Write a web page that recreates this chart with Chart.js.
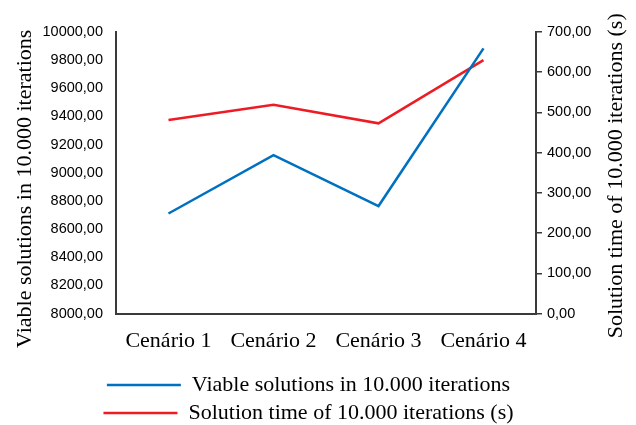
<!DOCTYPE html>
<html>
<head>
<meta charset="utf-8">
<script src="https://cdn.jsdelivr.net/npm/chart.js@4"></script>
<style>
  html, body { margin: 0; padding: 0; background: #fff; }
  #wrap { width: 636px; height: 425px; }
</style>
</head>
<body>
<div id="wrap"><canvas id="myChart"></canvas></div>
<script>
// valores
let categories = ['Cenário 1', 'Cenário 2', 'Cenário 3', 'Cenário 4'];
let viableSolutions = [8711, 9125, 8764, 9884];
let solutionTime = [481, 519, 473, 630];
let leftTitle = 'Viable solutions in 10.000 iterations';
let rightTitle = 'Solution time of 10.000 iterations (s)';

let serif = '"Liberation Serif", "Times New Roman", serif';
let sans = '"Liberation Sans", Arial, sans-serif';
let axisColor = '#3a3a3a';

let fmt = (v) => v.toFixed(2).replace('.', ',');

// títulos dos eixos desenhados à mão: ambos leem de baixo para cima
let drawVerticalTitle = (ctx, text, x, y) => {
    ctx.save();
    ctx.translate(x, y);
    ctx.rotate(-Math.PI / 2);
    ctx.font = '22px ' + serif;
    ctx.fillStyle = '#000';
    ctx.textAlign = 'center';
    ctx.textBaseline = 'middle';
    ctx.fillText(text, 0, 0);
    ctx.restore();
}

let axisTitlesPlugin = {
    id: 'axisTitles',
    afterLayout: (chart) => {
        // legenda um pouco à esquerda do centro
        chart.legend.left -= 12;
        chart.legend.right -= 12;
    },
    afterDraw: (chart) => {
        let l = chart.scales.y;
        let r = chart.scales.y1;
        let mid = (l.top + l.bottom) / 2;
        drawVerticalTitle(chart.ctx, leftTitle, l.left + 2 + 13.2, mid + 16);
        drawVerticalTitle(chart.ctx, rightTitle, r.right - 2 - 13.2, mid + 3);
    }
};

let init = () => {
    let ctx = document.getElementById('myChart').getContext('2d');
    new Chart(ctx, {
        type: 'line',
        data: {
            labels: categories,
            datasets: [{
                label: leftTitle,
                data: viableSolutions,
                borderColor: '#0070C0',
                backgroundColor: '#0070C0',
                borderWidth: 2.5,
                pointRadius: 0,
                tension: 0,
                yAxisID: 'y'
            }, {
                label: rightTitle,
                data: solutionTime,
                borderColor: '#ED1C24',
                backgroundColor: '#ED1C24',
                borderWidth: 2.5,
                pointRadius: 0,
                tension: 0,
                yAxisID: 'y1'
            }]
        },
        options: {
            responsive: true,
            maintainAspectRatio: false,
            animation: false,
            layout: { padding: { left: 10, right: 5, top: 32, bottom: -9 } },
            plugins: {
                tooltip: { enabled: false },
                legend: {
                    position: 'bottom',
                    labels: {
                        usePointStyle: true,
                        pointStyle: 'line',
                        pointStyleWidth: 74,
                        color: '#000',
                        padding: 6,
                        font: { family: serif, size: 22, lineHeight: 1.2 }
                    }
                }
            },
            scales: {
                x: {
                    offset: true,
                    grid: { display: false, drawTicks: false },
                    border: { display: true, color: axisColor, width: 2 },
                    ticks: { color: '#000', padding: 14, font: { family: serif, size: 22 } }
                },
                y: {
                    position: 'left',
                    min: 8000,
                    max: 10000,
                    afterFit: (s) => { s.width = 106; },
                    grid: { display: false, drawTicks: false },
                    border: { display: true, color: axisColor, width: 2 },
                    ticks: {
                        stepSize: 200,
                        padding: 13,
                        color: '#000',
                        font: { family: sans, size: 14.5 },
                        callback: (v) => fmt(v)
                    }
                },
                y1: {
                    position: 'right',
                    min: 0,
                    max: 700,
                    afterFit: (s) => { s.width = 95; },
                    grid: { display: true, drawOnChartArea: false, drawTicks: true, tickLength: 6, color: axisColor, lineWidth: 1.5 },
                    border: { display: true, color: axisColor, width: 2 },
                    ticks: {
                        stepSize: 100,
                        padding: 5,
                        color: '#000',
                        font: { family: sans, size: 14.5 },
                        callback: (v) => fmt(v)
                    }
                }
            }
        },
        plugins: [axisTitlesPlugin]
    });
}

init();
</script>
</body>
</html>
